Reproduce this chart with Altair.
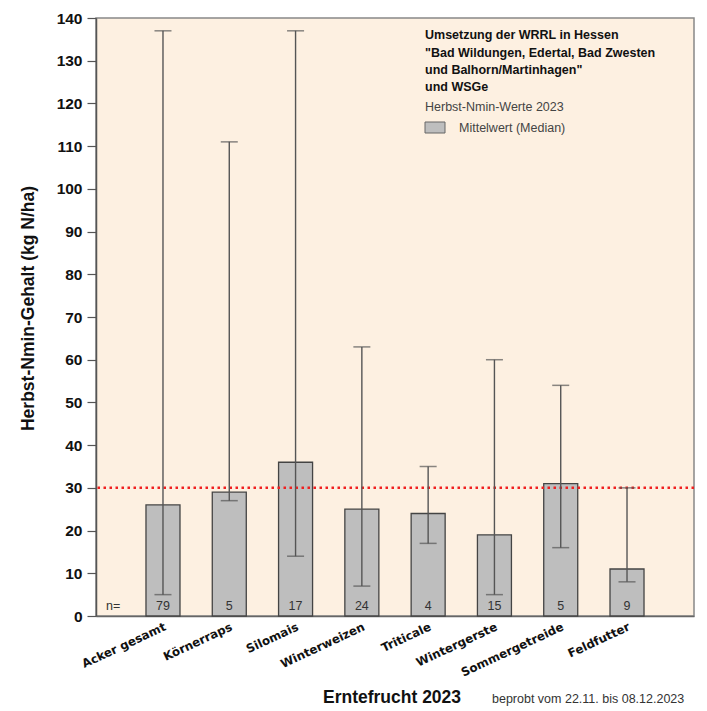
import altair as alt
import pandas as pd

categories = ["Acker gesamt", "Körnerraps", "Silomais", "Winterweizen",
              "Triticale", "Wintergerste", "Sommergetreide", "Feldfutter"]
median = [26, 29, 36, 25, 24, 19, 31, 11]
minimum = [5, 27, 14, 7, 17, 5, 16, 8]
maximum = [137, 111, 137, 63, 35, 60, 54, 30]
n_counts = [79, 5, 17, 24, 4, 15, 5, 9]
threshold = [30]
legend_lines = ["Umsetzung der WRRL in Hessen",
                "\"Bad Wildungen, Edertal, Bad Zwesten",
                "und Balhorn/Martinhagen\"",
                "und WSGe"]
legend_sub = "Herbst-Nmin-Werte 2023"
legend_item = "Mittelwert (Median)"
y_title = "Herbst-Nmin-Gehalt (kg N/ha)"
x_title = "Erntefrucht 2023"
note = "beprobt vom 22.11. bis 08.12.2023"

df = pd.DataFrame({"cat": categories, "median": median, "min": minimum,
                   "max": maximum, "n": [str(v) for v in n_counts]})

FONT = "Liberation Sans"
W, H = 598, 598

xenc = alt.X("cat:N", sort=categories, title=None,
             scale=alt.Scale(paddingInner=0.487, paddingOuter=0.754),
             axis=alt.Axis(labelAngle=335, labelAlign="right", labelBaseline="top",
                           labelFont="DejaVu Sans", labelFontWeight="bold",
                           labelFontSize=11.8, labelColor="#111", labelPadding=5,
                           ticks=False, domainColor="#666", domainWidth=1.5))

yscale = alt.Scale(domain=[0, 140], nice=False)
yaxis = alt.Axis(values=list(range(0, 145, 5)),
                 labelExpr="datum.value % 10 === 0 ? datum.label : ''",
                 tickSize={"condition": {"test": "datum.value % 10 === 0", "value": 9}, "value": 5},
                 tickColor="#555", tickWidth=1.2,
                 domainColor="#555", domainWidth=1.5,
                 labelFont=FONT, labelFontWeight="bold", labelFontSize=15.5,
                 labelColor="#111", labelPadding=5, grid=False,
                 title=y_title, titleFont=FONT, titleFontWeight="bold",
                 titleFontSize=17.5, titleColor="#111", titleAngle=270,
                 titleX=-68, titleY=290, titleAlign="center", titleBaseline="middle")

base = alt.Chart(df)

bars = base.mark_bar(fill="#BEBEBE", stroke="#444", strokeWidth=1.3).encode(
    x=xenc, y=alt.Y("median:Q", scale=yscale, axis=yaxis))

whisk = base.mark_rule(color="#555", strokeWidth=1.4).encode(
    x=alt.X("cat:N", sort=categories), y=alt.Y("min:Q"), y2="max:Q")

cap_lo = base.mark_tick(color="#555", size=17, thickness=1.5).encode(
    x=alt.X("cat:N", sort=categories), y=alt.Y("min:Q"))
cap_hi = base.mark_tick(color="#555", size=17, thickness=1.5).encode(
    x=alt.X("cat:N", sort=categories), y=alt.Y("max:Q"))

ntext = base.mark_text(font=FONT, fontSize=12.5, color="#333", baseline="middle").encode(
    x=alt.X("cat:N", sort=categories), y=alt.value(588), text="n:N")

nlabel = alt.Chart(pd.DataFrame({"t": ["n="]})).mark_text(
    font=FONT, fontSize=12.5, color="#333", align="left", baseline="middle").encode(
    x=alt.value(10), y=alt.value(588), text="t:N")

red = alt.Chart(pd.DataFrame({"v": threshold})).mark_rule(
    color="#F02020", strokeWidth=2.5, strokeDash=[2.5, 3.5]).encode(y="v:Q")

leg_df = pd.DataFrame({"t": legend_lines, "yy": [17, 35, 52, 69]})
leg_text = alt.Chart(leg_df).mark_text(
    font=FONT, fontSize=12.5, fontWeight="bold", color="#111", align="left",
    baseline="middle").encode(x=alt.value(329), y=alt.Y("yy:Q", scale=None), text="t:N")

sub_text = alt.Chart(pd.DataFrame({"t": [legend_sub]})).mark_text(
    font=FONT, fontSize=12.5, color="#444", align="left", baseline="middle").encode(
    x=alt.value(329), y=alt.value(89), text="t:N")

swatch = alt.Chart(pd.DataFrame({"a": [0]})).mark_rect(
    fill="#BEBEBE", stroke="#666", strokeWidth=1).encode(
    x=alt.value(329), x2=alt.value(349), y=alt.value(104), y2=alt.value(115))

item_text = alt.Chart(pd.DataFrame({"t": [legend_item]})).mark_text(
    font=FONT, fontSize=12.5, color="#444", align="left", baseline="middle").encode(
    x=alt.value(363), y=alt.value(109.5), text="t:N")

xt = alt.Chart(pd.DataFrame({"t": [x_title]})).mark_text(
    font=FONT, fontSize=17.5, fontWeight="bold", color="#111", align="center",
    baseline="middle").encode(x=alt.value(296), y=alt.value(680), text="t:N")

nt = alt.Chart(pd.DataFrame({"t": [note]})).mark_text(
    font=FONT, fontSize=12.5, color="#333", align="left", baseline="middle").encode(
    x=alt.value(396), y=alt.value(681), text="t:N")

chart = alt.layer(bars, red, whisk, cap_lo, cap_hi, ntext, nlabel, leg_text, sub_text,
                  swatch, item_text, xt, nt).properties(
    width=W, height=H,
    autosize=alt.AutoSizeParams(type="none"),
    padding={"left": 88, "top": 10, "right": 5, "bottom": 92},
    background="white",
).configure_view(fill="#FDF0E1", stroke="#888", strokeWidth=1.5)

chart.save("out.html", embed_options={"renderer": "svg", "actions": False})
